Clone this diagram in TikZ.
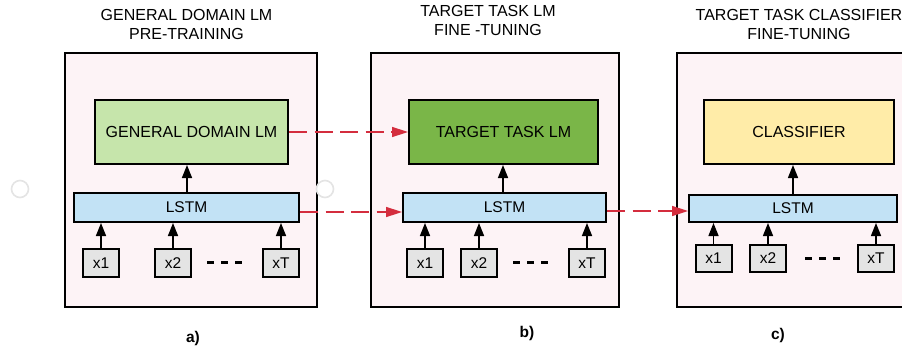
\documentclass[tikz,border=0pt]{standalone}
\usepackage{fontspec}
\setmainfont{Liberation Sans}
\usetikzlibrary{arrows.meta,calc}
\definecolor{panelpink}{RGB}{253,243,246}
\definecolor{lightgreen}{RGB}{198,229,171}
\definecolor{darkgreen}{RGB}{122,182,72}
\definecolor{softyellow}{RGB}{255,236,168}
\definecolor{lstmblue}{RGB}{194,226,245}
\definecolor{inputgray}{RGB}{228,228,228}
\definecolor{linkred}{RGB}{212,45,62}
\definecolor{ghost}{RGB}{228,228,228}
\tikzset{
  panel/.style={draw=black, line width=2pt, fill=panelpink},
  blockbox/.style={draw=black, line width=2pt, minimum height=64pt, inner sep=0pt, font=\fontsize{16}{18}\selectfont},
  lstmbox/.style={draw=black, line width=2pt, fill=lstmblue, inner sep=0pt, font=\fontsize{15.5}{17}\selectfont},
  inbox/.style={draw=black, line width=2pt, fill=inputgray, minimum width=36pt, minimum height=28pt, inner sep=0pt, font=\fontsize{15.5}{17}\selectfont},
  uparrow/.style={line width=1.5pt, -{Triangle[length=13pt,width=10pt]}},
  redlink/.style={draw=linkred, line width=1.5pt, dash pattern=on 18pt off 7.5pt, -{Triangle[length=16pt,width=10pt,fill=linkred]}},
  ellip/.style={line width=3pt, dash pattern=on 7pt off 7pt},
  titletext/.style={align=center, font=\fontsize{16}{19}\selectfont},
  sublabel/.style={font=\bfseries\fontsize{15.5}{17}\selectfont},
  ghostring/.style={draw=ghost, line width=1.6pt, fill=white}
}
\begin{document}
\begin{tikzpicture}[x=1pt,y=-1pt]
\useasboundingbox (0,0) rectangle (902,351);
\fill[white] (0,0) rectangle (902,351);

% titles
\node[titletext] (ta) at (186.5,24.5) {GENERAL DOMAIN LM\\PRE-TRAINING};
\node[titletext] (tb) at (488,20) {TARGET TASK LM\\FINE -TUNING};
\node[titletext] (tc) at (799,24.5) {TARGET TASK CLASSIFIER\\FINE-TUNING};

% panels
\draw[panel] (65,53) rectangle (317,307);
\draw[panel] (371,53) rectangle (619,307);
\fill[panelpink] (677,53) rectangle (910,307);
\draw[line width=2pt] (910,53) -- (677,53) -- (677,307) -- (910,307);

% ghost rings
\draw[ghostring] (20,189) circle (8.5);
\draw[ghostring] (325,189) circle (8.5);

% panel a
\node[blockbox, fill=lightgreen, minimum width=193pt] (gA) at (191.5,132) {GENERAL DOMAIN LM};
\node[lstmbox, minimum width=225pt, minimum height=29pt] (lA) at (186.5,207.5) {LSTM};
\node[inbox] (a1) at (101,263) {x1};
\node[inbox] (a2) at (173,263) {x2};
\node[inbox] (aT) at (281,263) {xT};
\coordinate (adL) at (207,262);
\coordinate (adR) at (242,262);
\draw[ellip] (adL) -- (adR);
\draw[uparrow] (lA.north -| 187,0) -- (gA.south -| 187,0);
\foreach \n in {a1,a2,aT} \draw[uparrow] (\n.north) -- (\n.north |- lA.south);

% panel b
\node[blockbox, fill=darkgreen, minimum width=189pt] (gB) at (503.5,132) {TARGET TASK LM};
\node[lstmbox, minimum width=203pt, minimum height=29pt] (lB) at (504.5,207.5) {LSTM};
\node[inbox] (b1) at (425,263) {x1};
\node[inbox] (b2) at (479,263) {x2};
\node[inbox] (bT) at (587,263) {xT};
\coordinate (bdL) at (513,262);
\coordinate (bdR) at (550,262);
\draw[ellip] (bdL) -- (bdR);
\draw[uparrow] (lB.north -| 503,0) -- (gB.south -| 503,0);
\foreach \n in {b1,b2,bT} \draw[uparrow] (\n.north) -- (\n.north |- lB.south);

% panel c
\node[blockbox, fill=softyellow, minimum width=190pt] (gC) at (799,132) {CLASSIFIER};
\node[lstmbox, minimum width=208pt, minimum height=27pt] (lC) at (793,208.5) {LSTM};
\node[inbox, minimum height=27pt] (c1) at (713.5,258.5) {x1};
\node[inbox, minimum height=27pt] (c2) at (768,258.5) {x2};
\node[inbox, minimum height=27pt] (cT) at (876,258.5) {xT};
\coordinate (cdL) at (805,258);
\coordinate (cdR) at (842,258);
\draw[ellip] (cdL) -- (cdR);
\draw[uparrow] (lC.north -| 793,0) -- (gC.south -| 793,0);
\foreach \n in {c1,c2,cT} \draw[uparrow] (\n.north) -- (\n.north |- lC.south);

% red transfer links
\draw[redlink] (gA.east) -- (gB.west);
\draw[redlink] ([yshift=-4.5pt]lA.east) -- ([yshift=-4.5pt]lA.east -| lB.west);
\draw[redlink] ([yshift=-3.5pt]lB.east) -- ([yshift=-3.5pt]lB.east -| lC.west);

% sub labels
\node[sublabel] (la) at (193,338) {a)};
\node[sublabel] (lb) at (527,333) {b)};
\node[sublabel] (lc) at (778,335) {c)};
\end{tikzpicture}
\end{document}
